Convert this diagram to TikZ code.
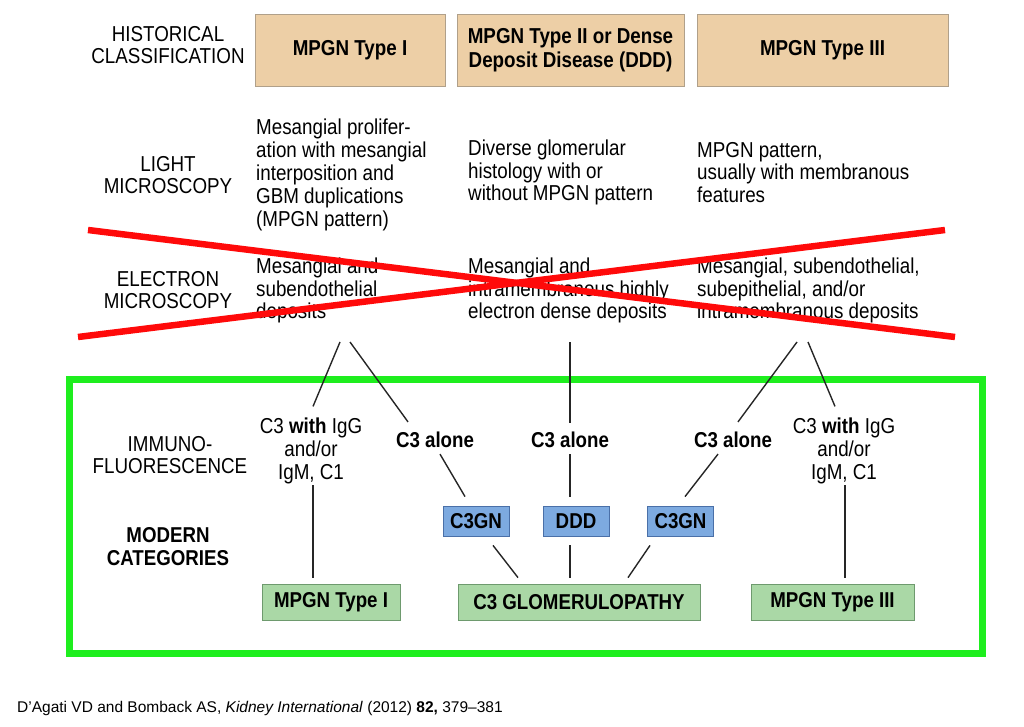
\documentclass[tikz,border=0pt]{standalone}
\usepackage{fontspec}
\setmainfont{Liberation Sans}
\newfontfamily\narrowsans{Liberation Sans}[FakeStretch=0.87]
\definecolor{tanfill}{HTML}{EDCFA6}
\definecolor{tanline}{HTML}{B0A08A}
\definecolor{bluefill}{HTML}{7DAAE0}
\definecolor{blueline}{HTML}{4A70A8}
\definecolor{greenfill}{HTML}{AAD8A6}
\definecolor{greenline}{HTML}{6E9A6E}
\definecolor{crossred}{HTML}{FF0A0A}
\definecolor{framegreen}{HTML}{1EEE1E}
\begin{document}
\begin{tikzpicture}[x=1pt,y=-1pt,
  body/.style={font=\narrowsans\fontsize{21.6}{22.8}\selectfont, inner sep=0pt},
  lbl/.style={body, align=center},
  blk/.style={body, align=left, anchor=west},
  boldlbl/.style={font=\narrowsans\bfseries\fontsize{21.5}{23}\selectfont, inner sep=0pt, align=center},
  histbox/.style={draw=tanline, fill=tanfill, line width=0.8pt, font=\narrowsans\bfseries\fontsize{21.6}{24}\selectfont, align=center, minimum height=72pt, inner sep=0pt},
  bluebox/.style={draw=blueline, fill=bluefill, line width=0.8pt, font=\narrowsans\bfseries\fontsize{21.5}{23}\selectfont, minimum height=30pt, minimum width=66pt, inner sep=0pt},
  greenbox/.style={draw=greenline, fill=greenfill, line width=0.8pt, font=\narrowsans\bfseries\fontsize{21.5}{23}\selectfont, minimum height=36pt, inner sep=0pt},
  conn/.style={draw=black!85, line width=1.4pt},
  redx/.style={draw=crossred, line width=6.5pt},
  frame/.style={draw=framegreen, line width=7pt}
]
\useasboundingbox (0,0) rectangle (1024,727);

% row labels
\node[lbl] (lhist) at (168,45) {HISTORICAL\\CLASSIFICATION};
\node[lbl] (llm) at (168,175) {LIGHT\\MICROSCOPY};
\node[lbl] (lem) at (168,290) {ELECTRON\\MICROSCOPY};
\node[lbl] (lif) at (170,455) {IMMUNO-\\FLUORESCENCE};
\node[boldlbl] (lmod) at (168,547) {MODERN\\CATEGORIES};

% historical boxes
\node[histbox, minimum width=190pt] (h1) at (350,50) {MPGN Type I};
\node[histbox, minimum width=227pt] (h2) at (570.5,50) {MPGN Type II or Dense\\Deposit Disease (DDD)};
\node[histbox, minimum width=251pt] (h3) at (822.5,50) {MPGN Type III};

% light microscopy
\node[blk] (lm1) at (256,175) {Mesangial prolifer-\\ation with mesangial\\interposition and\\GBM duplications\\(MPGN pattern)};
\node[blk] (lm2) at (468,172.5) {Diverse glomerular\\histology with or\\without MPGN pattern};
\node[blk] (lm3) at (697,172.5) {MPGN pattern,\\usually with membranous\\features};

% electron microscopy
\node[blk] (em1) at (256,290.5) {Mesangial and\\subendothelial\\deposits};
\node[blk] (em2) at (468,290.5) {Mesangial and\\intramembranous highly\\electron dense deposits};
\node[blk] (em3) at (697,290.5) {Mesangial, subendothelial,\\subepithelial, and/or\\intramembranous deposits};

% red cross
\coordinate (xa1) at (88,230);
\coordinate (xa2) at (955,337);
\coordinate (xb1) at (78,337);
\coordinate (xb2) at (945,230);
\draw[redx] (xa1) -- (xa2);
\draw[redx] (xb1) -- (xb2);

% green frame
\draw[frame] (69,379) rectangle (982,653);

% immunofluorescence
\node[lbl] (if1) at (311,451) {C3 \textbf{with} IgG\\and/or\\IgM, C1};
\node[boldlbl] (al1) at (435,440) {C3 alone};
\node[boldlbl] (al2) at (570,440) {C3 alone};
\node[boldlbl] (al3) at (733,440) {C3 alone};
\node[lbl] (if2) at (844,451) {C3 \textbf{with} IgG\\and/or\\IgM, C1};

% blue boxes
\node[bluebox] (c3gn1) at (476,521) {C3GN};
\node[bluebox] (ddd) at (576,521) {DDD};
\node[bluebox] (c3gn2) at (680.5,521) {C3GN};

% green boxes
\node[greenbox, minimum width=138pt] (m1) at (331,602) {MPGN Type I};
\node[greenbox, minimum width=242pt] (glom) at (579,602) {C3 GLOMERULOPATHY};
\node[greenbox, minimum width=163pt] (m3) at (832.5,602) {MPGN Type III};

% apex coordinates
\coordinate (apL1) at (340,342);
\coordinate (apL2) at (350,342);
\coordinate (apC) at (570,342);
\coordinate (apR1) at (797,342);
\coordinate (apR2) at (808,342);

% connectors
\draw[conn] (apL1) -- ([yshift=11.5pt]if1.north -| 313,0);
\draw[conn] (apL2) -- ([shift={(-27pt,10pt)}]al1.north);
\draw[conn] (apC) -- ([yshift=9pt]al2.north);
\draw[conn] (apR1) -- ([shift={(5pt,10pt)}]al3.north);
\draw[conn] (apR2) -- ([shift={(-9pt,11.5pt)}]if2.north);

\draw[conn] ([shift={(5pt,-6pt)}]al1.south) -- ([shift={(-11pt,9pt)}]c3gn1.north);
\draw[conn] ([yshift=-6pt]al2.south) -- ([yshift=9pt]ddd.north -| al2.south);
\draw[conn] ([shift={(-15pt,-6pt)}]al3.south) -- ([shift={(4.5pt,9pt)}]c3gn2.north);

\draw[conn] ([shift={(17pt,-9pt)}]c3gn1.south) -- ([shift={(-61pt,6pt)}]glom.north);
\draw[conn] ([shift={(-6pt,-9pt)}]ddd.south) -- ([shift={(-9pt,6pt)}]glom.north);
\draw[conn] ([shift={(-30.5pt,-9pt)}]c3gn2.south) -- ([shift={(49pt,6pt)}]glom.north);

\draw[conn] ([yshift=-1pt]if1.south -| 313,0) -- ([yshift=6pt]m1.north -| 313,0);
\draw[conn] ([yshift=-1pt]if2.south -| 845,0) -- ([yshift=6pt]m3.north -| 845,0);

% footer
\node[anchor=base west, inner sep=0pt, font=\fontsize{15.5}{18}\selectfont] (cite) at (17,712)
  {D'Agati VD and Bomback AS, \textit{Kidney International} (2012) \textbf{82,} 379–381};
\end{tikzpicture}
\end{document}
